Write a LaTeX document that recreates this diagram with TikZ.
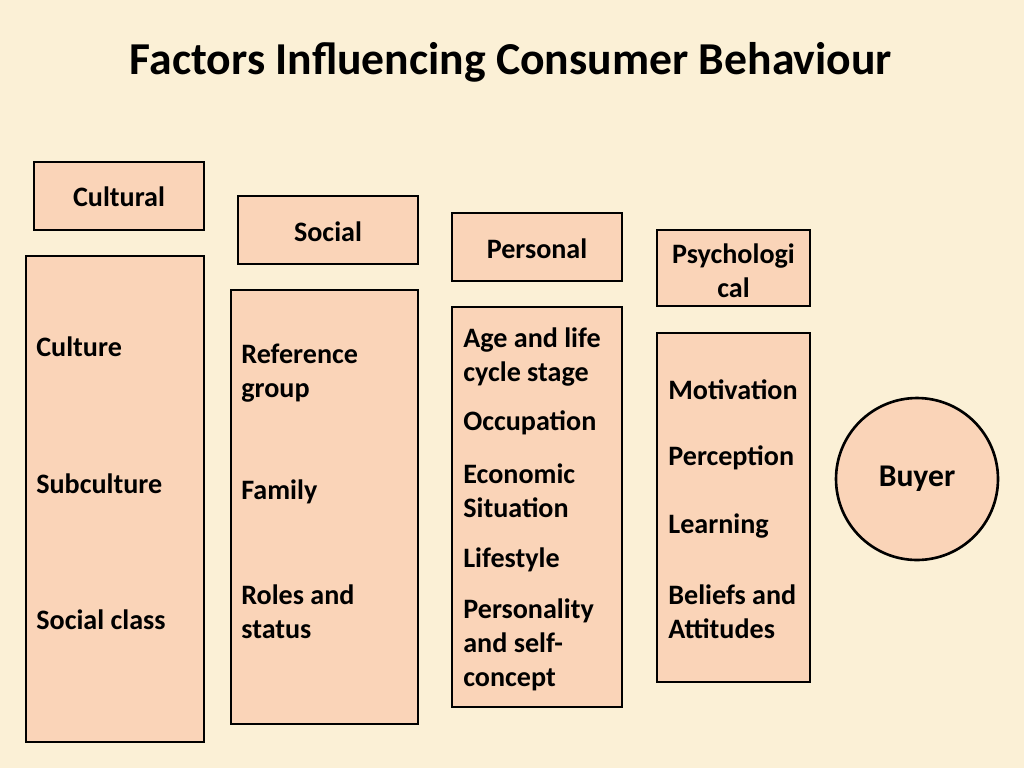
\documentclass[tikz,border=0pt]{standalone}
\usepackage{fontspec}
\setmainfont{Carlito}
\usetikzlibrary{positioning}
\definecolor{parchment}{HTML}{FBF0D6}
\definecolor{peach}{HTML}{FAD4B8}
\tikzset{
  factorbox/.style={draw=black, line width=1.5pt, fill=peach, inner sep=0pt},
  itemtext/.style={anchor=west, align=left, inner sep=0pt, font=\fontsize{16}{19.4}\selectfont\bfseries},
  headtext/.style={align=center, inner sep=0pt, font=\fontsize{16}{19.4}\selectfont\bfseries}
}
\begin{document}
\begin{tikzpicture}[x=0.02cm, y=-0.02cm]
                % Background
                \fill[parchment] (0,0) rectangle (1024,768);
                \useasboundingbox (0,0) rectangle (1024,768);
                \node[font=\fontsize{26}{31}\selectfont\bfseries] (title) at (511,62) {Factors Influencing Consumer Behaviour};

                % Cultural
                \node[factorbox, minimum width=3.4cm, minimum height=1.36cm] (cultural) at (119,196) {};
                \node[headtext] (culturalT) at (119,197) {Cultural};
                \node[factorbox, minimum width=3.56cm, minimum height=9.72cm] (culturalBox) at (115,499) {};
                \node[itemtext] (culture) at (36,347) {Culture};
                \node[itemtext] (subculture) at (36,484) {Subculture};
                \node[itemtext] (socialclass) at (36,620) {Social class};

                % Social
                \node[factorbox, minimum width=3.6cm, minimum height=1.36cm] (social) at (328,230) {};
                \node[headtext] (socialT) at (328,232) {Social};
                \node[factorbox, minimum width=3.74cm, minimum height=8.68cm] (socialBox) at (324.5,507) {};
                \node[itemtext] (reference) at (241,373) {Reference\\group};
                \node[itemtext] (family) at (241,492) {Family};
                \node[itemtext] (roles) at (241,612) {Roles and\\status};

                % Personal
                \node[factorbox, minimum width=3.4cm, minimum height=1.36cm] (personal) at (537,247) {};
                \node[headtext] (personalT) at (537,249) {Personal};
                \node[factorbox, minimum width=3.4cm, minimum height=8cm] (personalBox) at (537,507) {};
                \node[itemtext] (age) at (463,357) {Age and life\\cycle stage};
                \node[itemtext] (occupation) at (463,423) {Occupation};
                \node[itemtext] (economic) at (463,491) {Economic\\Situation};
                \node[itemtext] (lifestyle) at (463,560) {Lifestyle};
                \node[itemtext] (personality) at (463,645) {Personality\\and self-\\concept};

                % Psychological
                \node[factorbox, minimum width=3.06cm, minimum height=1.52cm] (psych) at (733.5,268) {};
                \node[headtext] (psychT) at (733.5,271) {Psychologi\\cal};
                \node[factorbox, minimum width=3.06cm, minimum height=6.98cm] (psychBox) at (733.5,507.5) {};
                \node[itemtext] (motivation) at (668,390) {Motivation};
                \node[itemtext] (perception) at (668,458) {Perception};
                \node[itemtext] (learning) at (668,526) {Learning};
                \node[itemtext] (beliefs) at (668,612) {Beliefs and\\Attitudes};

                % Buyer
                \node[circle, factorbox, minimum size=3.24cm, headtext, font=\fontsize{18}{22}\selectfont\bfseries] (buyer) at (917,479) {Buyer};
\end{tikzpicture}
\end{document}
